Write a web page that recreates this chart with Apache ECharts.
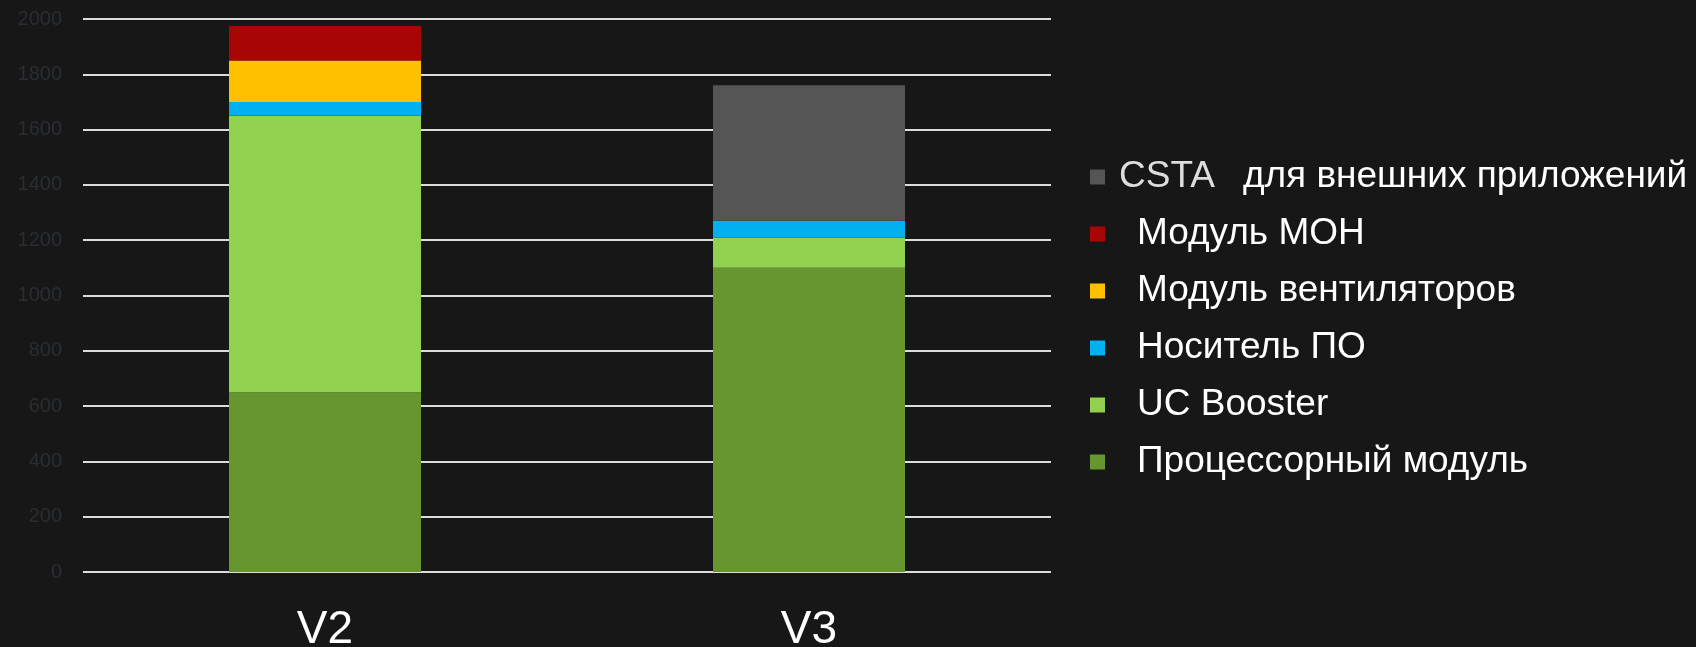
<!DOCTYPE html>
<html>
<head>
<meta charset="utf-8">
<style>
  html, body { margin: 0; padding: 0; background: #171717; }
  #chart { width: 1696px; height: 647px; }
</style>
<script src="https://cdn.jsdelivr.net/npm/echarts@6/dist/echarts.min.js"></script>
</head>
<body>
<div id="chart"></div>
<script>
const categories = ['V2', 'V3'];
const yTicks = [0, 200, 400, 600, 800, 1000, 1200, 1400, 1600, 1800, 2000];

// stack order, bottom to top
const processor = [650, 1100];
const ucBooster = [1000, 110];
const nositel = [50, 60];
const fans = [150, null];
const moh = [125, null];
const csta = [null, 490];

const names = {
    csta: 'CSTA для внешних приложений',
    moh: 'Модуль МОН',
    fans: 'Модуль вентиляторов',
    nositel: 'Носитель ПО',
    uc: 'UC Booster',
    proc: 'Процессорный модуль'
};

const FONT = "'Liberation Sans', Arial, sans-serif";

const chart = echarts.init(document.getElementById('chart'));

function bar(name, data, color) {
    return {
        name: name,
        type: 'bar',
        stack: 'total',
        data: data,
        barWidth: 192,
        itemStyle: { color: color },
        emphasis: { disabled: true }
    };
}

const option = {
    backgroundColor: '#171717',
    animation: false,
    grid: { left: 83, right: 645, top: 19, bottom: 75, outerBoundsMode: 'none' },
    legend: {
        orient: 'vertical',
        left: 1085,
        top: 152,
        itemWidth: 15,
        itemHeight: 15,
        itemGap: 17,
        icon: 'rect',
        data: [names.csta, names.moh, names.fans, names.nositel, names.uc, names.proc],
        formatter: function (n) {
            if (n === names.csta) return '{c|CSTA}{d|для внешних приложений}';
            return '{n|' + n + '}';
        },
        textStyle: {
            color: '#ffffff',
            fontFamily: FONT,
            fontSize: 37,
            lineHeight: 40,
            rich: {
                n: { color: '#ffffff', fontSize: 37, fontFamily: FONT, padding: [0, 0, 0, 27] },
                c: { color: '#dddddd', fontSize: 37, fontFamily: FONT, padding: [0, 0, 0, 9] },
                d: { color: '#ffffff', fontSize: 37, fontFamily: FONT, padding: [0, 0, 0, 28] }
            }
        }
    },
    xAxis: {
        type: 'category',
        data: categories,
        axisLine: { show: false },
        axisTick: { show: false },
        axisLabel: {
            color: '#ffffff',
            fontSize: 46,
            fontFamily: FONT,
            margin: 35
        }
    },
    yAxis: {
        type: 'value',
        min: yTicks[0],
        max: yTicks[yTicks.length - 1],
        interval: 200,
        axisLine: { show: false },
        axisTick: { show: false },
        axisLabel: {
            color: '#2a2e32',
            fontSize: 20,
            fontFamily: FONT,
            margin: 21,
            formatter: function (v) { return String(v); }
        },
        splitLine: { lineStyle: { color: '#dcdcdc', width: 2 } }
    },
    series: [
        bar(names.proc, processor, '#67952f'),
        bar(names.uc, ucBooster, '#92d050'),
        bar(names.nositel, nositel, '#00b0f0'),
        bar(names.fans, fans, '#ffc000'),
        bar(names.moh, moh, '#a80505'),
        bar(names.csta, csta, '#555555')
    ]
};

chart.setOption(option);
</script>
</body>
</html>
